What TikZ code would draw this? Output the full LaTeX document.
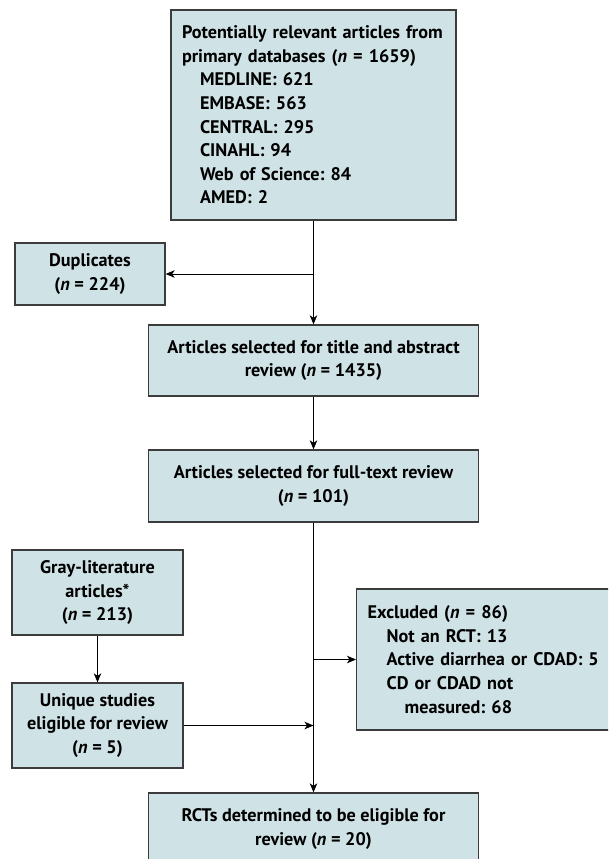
\documentclass[tikz,border=0pt]{standalone}
\usepackage{fontspec}
\setmainfont{PT Sans}
\frenchspacing
\usepackage{tikz}
\usetikzlibrary{arrows.meta}
\definecolor{boxfill}{RGB}{207,226,230}
\definecolor{boxline}{RGB}{60,60,60}
\tikzset{
  flowbox/.style={draw=boxline, line width=1.3pt, fill=boxfill, inner ysep=0pt,
    font=\bfseries\fontsize{18.2}{23.6}\selectfont},
  midbox/.style={flowbox, align=center},
  listbox/.style={flowbox, align=left},
  flowarrow/.style={line width=1pt, -{Stealth[length=9pt,width=7.5pt,inset=2.5pt]}}
}
\newcommand{\nn}{\textit{n}}

\begin{document}
\begin{tikzpicture}[x=1pt,y=-1pt]
			%%%%% START %%%%%
			\clip (0,0) rectangle (608,859);
			
			\node[listbox, text width=263, inner xsep=11, minimum height=210] (src) at (313.5,115)
			{Potentially relevant articles from\\ primary databases (\nn{} = 1659)\\
			\hspace*{18pt}MEDLINE: 621\\ \hspace*{18pt}EMBASE: 563\\ \hspace*{18pt}CENTRAL: 295\\
			\hspace*{18pt}CINAHL: 94\\ \hspace*{18pt}Web of Science: 84\\ \hspace*{18pt}AMED: 2};
			
			\node[midbox, minimum width=150, minimum height=62] (dup) at (90,274) {Duplicates\\ (\nn{} = 224)};
			
			\node[midbox, minimum width=330, minimum height=71] (title) at (313.5,360.5)
			{Articles selected for title and abstract\\ review (\nn{} = 1435)};
			
			\node[midbox, minimum width=330, minimum height=72] (full) at (313.5,486)
			{Articles selected for full-text review\\ (\nn{} = 101)};
			
			\node[midbox, minimum width=171, minimum height=85] (gray) at (97.5,592.5)
			{Gray-literature\\ articles*\\ (\nn{} = 213)};
			
			\node[midbox, minimum width=171, minimum height=85] (uniq) at (97.5,725.5)
			{Unique studies\\ eligible for review\\ (\nn{} = 5)};
			
			\node[listbox, text width=270, inner xsep=11, minimum height=141, anchor=west] (excl) at (356,659.5)
			{Excluded (\nn{} = 86)\\ \hspace*{19pt}Not an RCT: 13\\ \hspace*{19pt}Active diarrhea or CDAD: 5\\
			\hspace*{19pt}CD or CDAD not\\ \hspace*{37pt}measured: 68};
			
			\node[midbox, minimum width=330, minimum height=72] (final) at (313.5,829)
			{RCTs determined to be eligible for\\ review (\nn{} = 20)};
			
			\draw[flowarrow] (src) -- (title);
			\draw[flowarrow] (src.south |- dup) -- (dup.east);
			\draw[flowarrow] (title) -- (full);
			\draw[flowarrow] (full) -- (final);
			\draw[flowarrow] (full.south |- excl.west) -- (excl.west);
			\draw[flowarrow] (gray) -- (uniq);
			\draw[flowarrow] (uniq.east) -- (uniq.east -| full.south);
			%%%%% END %%%%%
\end{tikzpicture}
\end{document}
